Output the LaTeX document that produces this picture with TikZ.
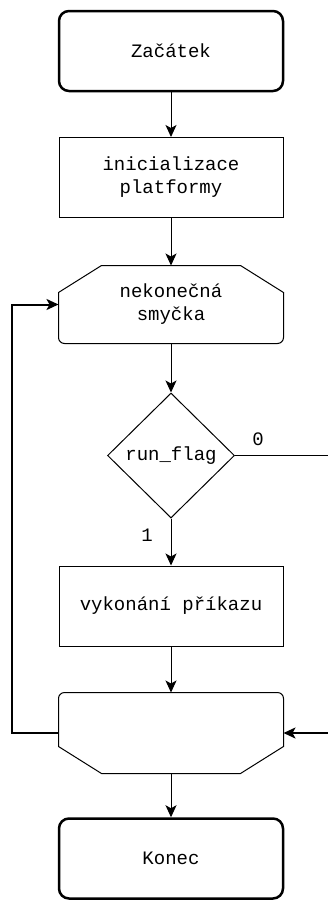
\documentclass[tikz,border=0pt]{standalone}
\usepackage{fontspec}
\setmonofont{Liberation Mono}
\usetikzlibrary{shapes.geometric,arrows.meta}
\begin{document}
\begin{tikzpicture}[x=1pt,y=-1pt,>={Stealth[length=12pt,width=11pt,inset=3pt]}]
\tikzset{krok/.style = {draw,
                        shape          = rectangle,
                        minimum width  = 224pt,
                        minimum height = 80pt,
                        align          = center,
                        font           = \ttfamily\fontsize{19}{23}\selectfont,
                        line width     = 1pt},
         mez/.style      = {krok, rounded corners = 10pt, line width = 2.5pt},
         cyklus/.style   = {krok, draw = none},
         podminka/.style = {krok, shape = diamond, inner sep = 0pt,
                            minimum width = 127pt, minimum height = 125pt},
         popisek/.style  = {font = \ttfamily\fontsize{19}{23}\selectfont},
         sipka/.style    = {->, line width = 1pt},
         zpet/.style     = {->, line width = 2pt}}
\useasboundingbox (0,0) rectangle (328,900);
\clip (0,0) rectangle (328,900);
\node[mez]      (zacatek) at (171,51)    {Začátek};
\node[krok]     (init)    at (171,177.5) {inicializace\\platformy};
\node[cyklus, minimum height = 77pt] (smycka) at (171,304.5) {nekonečná\\smyčka};
\node[podminka] (flag)    at (171,455.5) {run\_flag};
\node[krok]     (prikaz)  at (171,606)   {vykonání příkazu};
\node[cyklus]   (konecc)  at (171,733)   {};
\node[mez]      (konec)   at (171,858.5) {Konec};
\node[popisek]  (nula)    at (258,439)   {0};
\node[popisek]  (jedna)   at (147,535)   {1};
% zacatek a konec cyklu
\draw[line width=1pt] ([xshift=43pt]smycka.north west) -- ([xshift=-43pt]smycka.north east)
      -- ([yshift=-27pt]smycka.north east) [rounded corners=6pt] -- (smycka.south east)
      -- (smycka.south west) [sharp corners] -- ([yshift=-27pt]smycka.north west) -- cycle;
\draw[line width=1pt] ([xshift=43pt]konecc.south west) -- ([xshift=-43pt]konecc.south east)
      -- ([yshift=27pt]konecc.south east) [rounded corners=6pt] -- (konecc.north east)
      -- (konecc.north west) [sharp corners] -- ([yshift=27pt]konecc.south west) -- cycle;
\coordinate (vpravo) at (340,455.5);
\coordinate (vlevo)  at (12,733);
\draw[sipka] (zacatek) -- (init);
\draw[sipka] (init)    -- (smycka);
\draw[sipka] (smycka)  -- (flag);
\draw[sipka] (flag)    -- (prikaz);
\draw[sipka] (prikaz)  -- (konecc);
\draw[sipka] (konecc)  -- (konec);
\draw[line width=1pt] (flag) -- (vpravo);
\draw[zpet] (vpravo) |- (konecc);
\draw[zpet] (konecc) -- (vlevo) |- (smycka);
\end{tikzpicture}
\end{document}
